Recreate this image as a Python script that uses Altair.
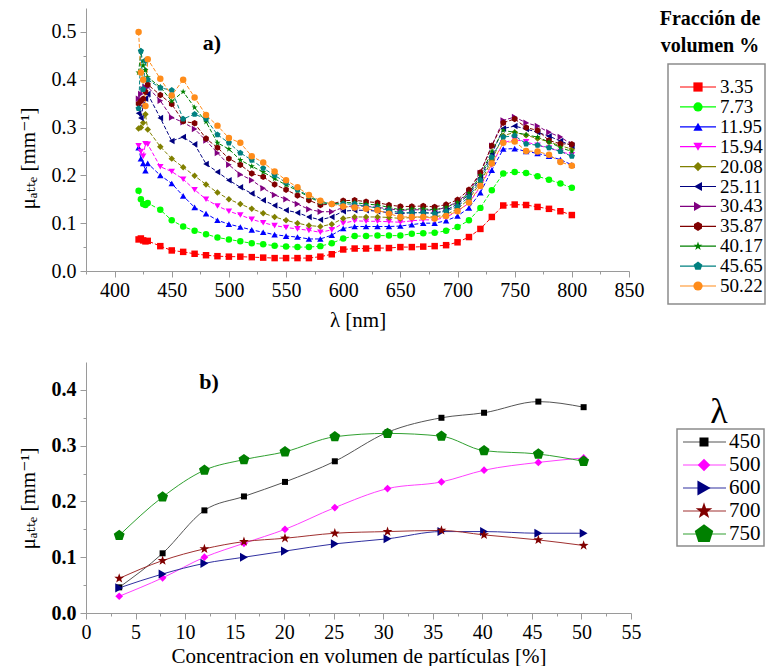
import altair as alt
import pandas as pd

FONT = "'Liberation Serif', 'Times New Roman', 'DejaVu Serif', Times, serif"
GRAY = "#9a9a9a"

HEXAGON = "M0,-1L0.866,-0.5L0.866,0.5L0,1L-0.866,0.5L-0.866,-0.5Z"
STAR = ("M0,-1L0.235,-0.324L0.951,-0.309L0.38,0.124L0.588,0.809L0,0.4"
        "L-0.588,0.809L-0.38,0.124L-0.951,-0.309L-0.235,-0.324Z")
PENTAGON = "M0,-1L0.951,-0.309L0.588,0.809L-0.588,0.809L-0.951,-0.309Z"

# ---------------- panel a) data ----------------
wavelengths = [421, 423, 425, 427, 429,
               440, 450, 460, 470, 480, 490, 500, 510, 520, 530, 540, 550, 560, 570, 580, 590, 600,
               610, 620, 630, 640, 650, 660, 670, 680, 690, 700,
               710, 720, 730, 740, 750, 760, 770, 780, 790, 800]

fractions = ["3.35", "7.73", "11.95", "15.94", "20.08", "25.11",
             "30.43", "35.87", "40.17", "45.65", "50.22"]

mu_3_35 = [0.066, 0.068, 0.064, 0.062, 0.063,
           0.052, 0.043, 0.040, 0.036, 0.033, 0.031, 0.030, 0.030, 0.029, 0.028, 0.027, 0.027, 0.027, 0.027, 0.030, 0.035, 0.045,
           0.047, 0.047, 0.048, 0.048, 0.050, 0.050, 0.051, 0.052, 0.054, 0.060,
           0.071, 0.088, 0.113, 0.137, 0.139, 0.138, 0.134, 0.130, 0.125, 0.117]
mu_7_73 = [0.168, 0.150, 0.140, 0.138, 0.142,
           0.128, 0.106, 0.093, 0.084, 0.077, 0.070, 0.066, 0.062, 0.058, 0.056, 0.053, 0.051, 0.050, 0.050, 0.052, 0.058, 0.068,
           0.073, 0.073, 0.074, 0.074, 0.074, 0.078, 0.079, 0.080, 0.084, 0.092,
           0.106, 0.132, 0.169, 0.204, 0.207, 0.205, 0.198, 0.191, 0.183, 0.174]
mu_11_95 = [0.258, 0.235, 0.225, 0.210, 0.225,
            0.200, 0.183, 0.157, 0.133, 0.120, 0.106, 0.098, 0.092, 0.086, 0.081, 0.076, 0.073, 0.071, 0.067, 0.067, 0.075, 0.089,
            0.093, 0.093, 0.093, 0.093, 0.094, 0.097, 0.100, 0.100, 0.105, 0.115,
            0.132, 0.164, 0.211, 0.255, 0.256, 0.250, 0.246, 0.240, 0.233, 0.222]
mu_15_94 = [0.262, 0.250, 0.240, 0.266, 0.265,
            0.218, 0.208, 0.192, 0.170, 0.150, 0.136, 0.125, 0.117, 0.108, 0.101, 0.095, 0.091, 0.088, 0.085, 0.081, 0.086, 0.100,
            0.105, 0.104, 0.104, 0.103, 0.102, 0.105, 0.107, 0.107, 0.112, 0.125,
            0.142, 0.176, 0.222, 0.268, 0.275, 0.270, 0.263, 0.257, 0.250, 0.243]
mu_20_08 = [0.298, 0.300, 0.310, 0.328, 0.296,
            0.260, 0.235, 0.217, 0.199, 0.181, 0.164, 0.150, 0.140, 0.130, 0.121, 0.113, 0.106, 0.100, 0.095, 0.093, 0.098, 0.110,
            0.113, 0.113, 0.113, 0.112, 0.110, 0.112, 0.113, 0.113, 0.118, 0.130,
            0.150, 0.185, 0.232, 0.283, 0.290, 0.284, 0.277, 0.270, 0.262, 0.255]
mu_25_11 = [0.330, 0.320, 0.345, 0.360, 0.370,
            0.320, 0.272, 0.280, 0.265, 0.224, 0.207, 0.190, 0.175, 0.162, 0.148, 0.137, 0.127, 0.122, 0.113, 0.107, 0.113, 0.125,
            0.127, 0.127, 0.125, 0.122, 0.120, 0.122, 0.122, 0.121, 0.127, 0.140,
            0.160, 0.195, 0.245, 0.298, 0.303, 0.297, 0.290, 0.282, 0.272, 0.262]
mu_30_43 = [0.360, 0.370, 0.380, 0.385, 0.385,
            0.356, 0.321, 0.311, 0.297, 0.273, 0.247, 0.222, 0.202, 0.190, 0.173, 0.159, 0.150, 0.140, 0.129, 0.124, 0.124, 0.133,
            0.137, 0.135, 0.133, 0.130, 0.127, 0.128, 0.128, 0.127, 0.133, 0.145,
            0.165, 0.205, 0.262, 0.315, 0.322, 0.310, 0.303, 0.290, 0.280, 0.265]
mu_35_87 = [0.350, 0.355, 0.360, 0.375, 0.390,
            0.368, 0.349, 0.313, 0.309, 0.277, 0.258, 0.235, 0.222, 0.204, 0.197, 0.181, 0.170, 0.158, 0.148, 0.138, 0.140, 0.147,
            0.148, 0.145, 0.143, 0.138, 0.135, 0.135, 0.136, 0.134, 0.139, 0.149,
            0.170, 0.206, 0.262, 0.310, 0.318, 0.300, 0.294, 0.273, 0.266, 0.265]
mu_40_17 = [0.415, 0.460, 0.430, 0.420, 0.405,
            0.385, 0.355, 0.375, 0.342, 0.312, 0.268, 0.255, 0.232, 0.219, 0.207, 0.193, 0.180, 0.168, 0.155, 0.143, 0.140, 0.143,
            0.143, 0.140, 0.138, 0.133, 0.128, 0.130, 0.130, 0.128, 0.133, 0.143,
            0.163, 0.200, 0.250, 0.294, 0.290, 0.285, 0.280, 0.270, 0.258, 0.250]
mu_45_65 = [0.340, 0.460, 0.380, 0.440, 0.400,
            0.383, 0.378, 0.318, 0.328, 0.318, 0.285, 0.268, 0.247, 0.232, 0.215, 0.200, 0.185, 0.170, 0.157, 0.145, 0.140, 0.140,
            0.140, 0.135, 0.132, 0.127, 0.122, 0.122, 0.122, 0.120, 0.125, 0.135,
            0.155, 0.190, 0.238, 0.280, 0.283, 0.266, 0.263, 0.258, 0.250, 0.240]
mu_50_22 = [0.500, 0.415, 0.400, 0.345, 0.443,
            0.402, 0.367, 0.400, 0.363, 0.326, 0.304, 0.278, 0.268, 0.240, 0.227, 0.208, 0.190, 0.175, 0.159, 0.147, 0.140, 0.135,
            0.133, 0.130, 0.127, 0.120, 0.113, 0.113, 0.113, 0.110, 0.115, 0.125,
            0.143, 0.178, 0.225, 0.268, 0.271, 0.251, 0.250, 0.243, 0.228, 0.220]

series_a = [mu_3_35, mu_7_73, mu_11_95, mu_15_94, mu_20_08, mu_25_11,
            mu_30_43, mu_35_87, mu_40_17, mu_45_65, mu_50_22]
colors_a = ["#ff0000", "#00ff00", "#0000ff", "#ff00ff", "#808000", "#000080",
            "#800080", "#800000", "#008000", "#008080", "#ff8c1a"]
shapes_a = ["square", "circle", "triangle-up", "triangle-down", "diamond", "triangle-left",
            "triangle-right", HEXAGON, STAR, PENTAGON, "circle"]

x_ticks_a = [375, 400, 425, 450, 475, 500, 525, 550, 575, 600, 625, 650, 675, 700,
             725, 750, 775, 800, 825, 850]
y_ticks_a = [0.0, 0.05, 0.1, 0.15, 0.2, 0.25, 0.3, 0.35, 0.4, 0.45, 0.5]

# ---------------- panel b) data ----------------
concentration = [3.35, 7.73, 11.95, 15.94, 20.08, 25.11, 30.43, 35.87, 40.17, 45.65, 50.22]
lambdas = ["450", "500", "600", "700", "750"]
mu_450 = [0.046, 0.107, 0.184, 0.209, 0.235, 0.272, 0.324, 0.350, 0.359, 0.379, 0.369]
mu_500 = [0.030, 0.063, 0.100, 0.125, 0.150, 0.189, 0.223, 0.235, 0.256, 0.270, 0.278]
mu_600 = [0.045, 0.070, 0.089, 0.100, 0.111, 0.124, 0.133, 0.146, 0.146, 0.143, 0.143]
mu_700 = [0.062, 0.094, 0.115, 0.128, 0.134, 0.143, 0.146, 0.148, 0.140, 0.131, 0.121]
mu_750 = [0.139, 0.208, 0.256, 0.275, 0.289, 0.316, 0.322, 0.317, 0.291, 0.285, 0.272]
series_b = [mu_450, mu_500, mu_600, mu_700, mu_750]
colors_b = ["#000000", "#ff00ff", "#000080", "#800000", "#008000"]
line_colors_b = ["#555555", "#ff40ff", "#3030a0", "#a03030", "#30a030"]
shapes_b = ["square", "diamond", "triangle-right", STAR, PENTAGON]
sizes_b = [36, 130, 110, 120, 140]
legend_sizes_b = [81, 380, 256, 230, 256]

x_ticks_b = [0, 2.5, 5, 7.5, 10, 12.5, 15, 17.5, 20, 22.5, 25, 27.5, 30, 32.5, 35,
             37.5, 40, 42.5, 45, 47.5, 50, 52.5, 55]
y_ticks_b = [0.0, 0.05, 0.1, 0.15, 0.2, 0.25, 0.3, 0.35, 0.4]

# ---------------- tables ----------------
rows_a = []
for frac, vals in zip(fractions, series_a):
    if len(vals) != len(wavelengths):
        raise ValueError(frac)
    for wl, v in zip(wavelengths, vals):
        rows_a.append({"frac": frac, "wl": wl, "mu": v})
df_a = pd.DataFrame(rows_a)
leg_a = pd.DataFrame({"frac": fractions})

rows_b = []
for lam, vals in zip(lambdas, series_b):
    for c, v in zip(concentration, vals):
        rows_b.append({"lam": lam, "conc": c, "mu": v})
df_b = pd.DataFrame(rows_b)
leg_b = pd.DataFrame({"lam": lambdas})
one = pd.DataFrame({"k": [0]})

YTITLE = "μₐₜₜₑ  [mm⁻¹]"

common_axis = dict(domainColor=GRAY, tickColor=GRAY, domainWidth=1, tickWidth=1,
                   labelFont=FONT, labelFontSize=20, labelColor="black",
                   titleFont=FONT, titleFontSize=21, titleFontWeight="normal", titleColor="black",
                   grid=False, labelFlush=False, labelOverlap=False)

# ================= panel a =================
color_a = alt.Color("frac:N", scale=alt.Scale(domain=fractions, range=colors_a), legend=None)
shape_a = alt.Shape("frac:N", scale=alt.Scale(domain=fractions, range=shapes_a), legend=None)

x_a = alt.X("wl:Q", scale=alt.Scale(domain=[375, 850], nice=False, zero=False),
            axis=alt.Axis(values=x_ticks_a, title="λ  [nm]",
                          labelExpr="datum.value % 50 === 0 ? datum.label : ''",
                          tickSize={"condition": {"test": "datum.value % 50 === 0", "value": 6}, "value": 3},
                          labelPadding=3, titlePadding=9, **common_axis))
y_a = alt.Y("mu:Q", scale=alt.Scale(domain=[0, 0.55], nice=False),
            axis=alt.Axis(values=y_ticks_a, title=YTITLE,
                          labelExpr="round(datum.value * 100) % 10 === 0 ? format(datum.value, '.1f') : ''",
                          tickSize={"condition": {"test": "round(datum.value * 100) % 10 === 0", "value": 6}, "value": 3},
                          labelPadding=4, titlePadding=13, titleY=150, **common_axis))

base_a = alt.Chart(df_a)
lines_a = base_a.mark_line(strokeWidth=1, strokeDash=[4, 2]).encode(x=x_a, y=y_a, color=color_a)
points_a = base_a.mark_point(filled=True, size=42, opacity=1).encode(x=x_a, y=y_a, color=color_a, shape=shape_a)
tag_a = alt.Chart(one).mark_text(text="a)", font=FONT, fontSize=22, fontWeight="bold",
                                 align="center", baseline="middle").encode(x=alt.value(126), y=alt.value(35))
main_a = alt.layer(lines_a, points_a, tag_a)

ly_a = alt.Y("frac:N", sort=fractions, scale=alt.Scale(type="point", range=[79, 278], padding=0), axis=None)
leg_rule_a = alt.Chart(leg_a).mark_rule(strokeWidth=1.2).encode(
    x=alt.value(594), x2=alt.value(630), y=ly_a, color=color_a)
leg_pt_a = alt.Chart(leg_a).mark_point(filled=True, size=85, opacity=1).encode(
    x=alt.value(612), y=ly_a, color=color_a, shape=shape_a)
leg_txt_a = alt.Chart(leg_a).mark_text(font=FONT, fontSize=19, align="left", baseline="middle").encode(
    x=alt.value(634), y=ly_a, text="frac:N")
box_a = alt.Chart(one).mark_rect(fillOpacity=0, stroke="#8c8c8c", strokeWidth=1.5).encode(
    x=alt.value(582), x2=alt.value(679), y=alt.value(56), y2=alt.value(296))
title_a = alt.Chart(one).mark_text(text=["Fracción de", "volumen %"], lineHeight=27, font=FONT,
                                   fontSize=20, fontWeight="bold", align="center", baseline="top").encode(
    x=alt.value(624), y=alt.value(1))

chart_a = alt.layer(main_a, leg_rule_a, leg_pt_a, leg_txt_a, box_a, title_a).resolve_scale(
    y="independent").properties(width=543, height=263)

# ================= panel b =================
color_b = alt.Color("lam:N", scale=alt.Scale(domain=lambdas, range=colors_b), legend=None)
lcolor_b = alt.Stroke("lam:N", scale=alt.Scale(domain=lambdas, range=line_colors_b), legend=None)
shape_b = alt.Shape("lam:N", scale=alt.Scale(domain=lambdas, range=shapes_b), legend=None)

x_b = alt.X("conc:Q", scale=alt.Scale(domain=[0, 55], nice=False),
            axis=alt.Axis(values=x_ticks_b, title="Concentracion en volumen de partículas [%]",
                          labelExpr="datum.value % 5 === 0 ? datum.label : ''",
                          tickSize={"condition": {"test": "datum.value % 5 === 0", "value": 6}, "value": 3},
                          labelPadding=3, titlePadding=3, **common_axis))
y_b = alt.Y("mu:Q", scale=alt.Scale(domain=[0, 0.45], nice=False),
            axis=alt.Axis(values=y_ticks_b, title=YTITLE, labelFontWeight="bold",
                          labelExpr="round(datum.value * 100) % 10 === 0 ? format(datum.value, '.1f') : ''",
                          tickSize={"condition": {"test": "round(datum.value * 100) % 10 === 0", "value": 6}, "value": 3},
                          labelPadding=4, titlePadding=13, titleY=136, **common_axis))

base_b = alt.Chart(df_b)
lines_b = base_b.mark_line(strokeWidth=1, interpolate="monotone").encode(x=x_b, y=y_b, stroke=lcolor_b)
points_b = base_b.mark_point(filled=True, opacity=1).encode(
    x=x_b, y=y_b, color=color_b, shape=shape_b,
    size=alt.Size("lam:N", scale=alt.Scale(domain=lambdas, range=sizes_b), legend=None))
tag_b = alt.Chart(one).mark_text(text="b)", font=FONT, fontSize=22, fontWeight="bold",
                                 align="center", baseline="middle").encode(x=alt.value(123), y=alt.value(20))
main_b = alt.layer(lines_b, points_b, tag_b)

ly_b = alt.Y("lam:N", sort=lambdas, scale=alt.Scale(type="point", range=[80, 172], padding=0), axis=None)
leg_rule_b = alt.Chart(leg_b).mark_rule(strokeWidth=1.2).encode(
    x=alt.value(597), x2=alt.value(640), y=ly_b, stroke=lcolor_b)
leg_pt_b = alt.Chart(leg_b).mark_point(filled=True, opacity=1).encode(
    x=alt.value(618), y=ly_b, color=color_b, shape=shape_b,
    size=alt.Size("lam:N", scale=alt.Scale(domain=lambdas, range=legend_sizes_b), legend=None))
leg_txt_b = alt.Chart(leg_b).mark_text(font=FONT, fontSize=21, align="left", baseline="middle").encode(
    x=alt.value(643), y=ly_b, text="lam:N")
box_b = alt.Chart(one).mark_rect(fillOpacity=0, stroke="#8c8c8c", strokeWidth=1.5).encode(
    x=alt.value(591), x2=alt.value(678), y=alt.value(67), y2=alt.value(184))
title_b = alt.Chart(one).mark_text(text="λ", font=FONT, fontSize=36, align="center", baseline="middle").encode(
    x=alt.value(633), y=alt.value(50))

chart_b = alt.layer(main_b, leg_rule_b, leg_pt_b, leg_txt_b, box_b, title_b).resolve_scale(
    y="independent", size="independent").properties(width=545, height=251)

chart = alt.vconcat(chart_a, chart_b, spacing=32).resolve_scale(
    color="independent", shape="independent", size="independent", stroke="independent"
).properties(
    padding={"left": 9, "top": 0, "right": 0, "bottom": 0}
).configure_view(strokeWidth=0)

chart.save("out.html", embed_options={"renderer": "svg", "actions": False})
